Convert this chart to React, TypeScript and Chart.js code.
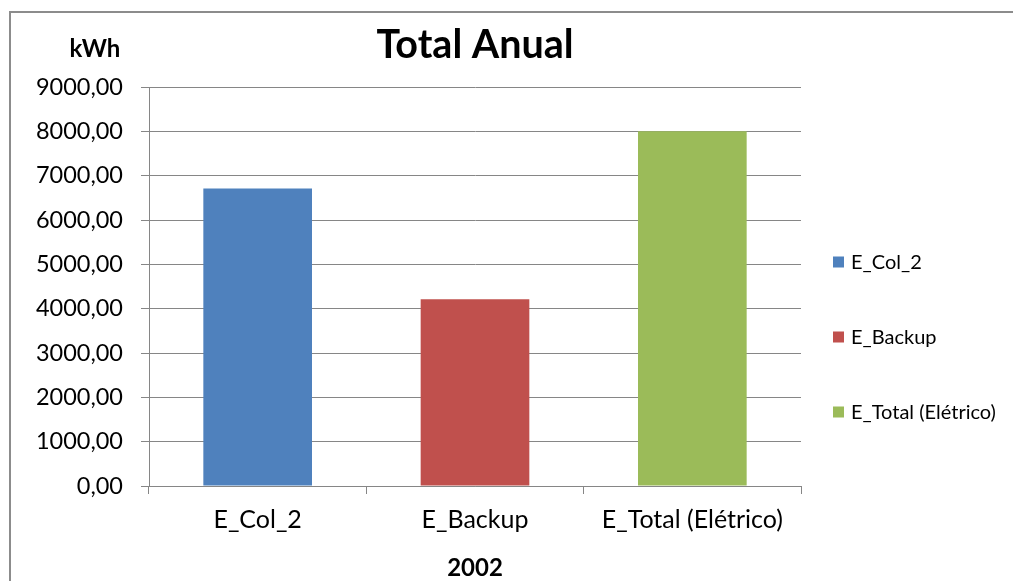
import React, { useEffect, useRef } from "react";
import { Chart, registerables } from "chart.js";

Chart.register(...registerables);

const categories = ["E_Col_2", "E_Backup", "E_Total (Elétrico)"];
const seriesNames = ["E_Col_2", "E_Backup", "E_Total (Elétrico)"];
const eCol2 = [6710, null, null];
const eBackup = [null, 4210, null];
const eTotal = [null, null, 8000];
const colors = ["#4F81BD", "#C0504D", "#9BBB59"];
const yTicks = [0, 1000, 2000, 3000, 4000, 5000, 6000, 7000, 8000, 9000];
const chartTitle = "Total Anual";
const yUnit = "kWh";
const xTitle = "2002";

const FONT = "Lato";
const GRID = "#868686";
const W = 1013;
const H = 581;

const framePlugin = {
  id: "frame",
  beforeDraw(chart: any) {
    const ctx = chart.ctx;
    ctx.save();
    ctx.fillStyle = "#ffffff";
    ctx.fillRect(0, 0, chart.width, chart.height);
    ctx.fillStyle = "#8c8c8c";
    ctx.fillRect(9, 11, 2, chart.height - 11);
    ctx.fillRect(9, 11, chart.width - 9, 2);
    ctx.restore();
  },
  afterDraw(chart: any) {
    const ctx = chart.ctx;
    const area = chart.chartArea;
    ctx.save();
    ctx.fillStyle = "#000";
    ctx.font = `bold 24px ${FONT}`;
    ctx.textAlign = "center";
    ctx.textBaseline = "alphabetic";
    ctx.fillText(yUnit, area.left - 54, area.top - 30);
    ctx.font = `20px ${FONT}`;
    ctx.textAlign = "left";
    ctx.textBaseline = "middle";
    chart.data.datasets.forEach((ds: any, i: number) => {
      const cy = area.top + 175 + i * 75;
      const bx = area.right + 32;
      ctx.fillStyle = ds.backgroundColor;
      ctx.fillRect(bx, cy - 5.5, 11, 11);
      ctx.fillStyle = "#000";
      ctx.fillText(ds.label, bx + 18, cy + 1);
    });
    ctx.restore();
  },
};

export default function App() {
  const ref = useRef<HTMLCanvasElement | null>(null);
  useEffect(() => {
    if (!ref.current) return;
    const chart = new Chart(ref.current, {
      type: "bar",
      data: {
        labels: categories,
        datasets: [eCol2, eBackup, eTotal].map((d, i) => ({
          label: seriesNames[i],
          data: d,
          backgroundColor: colors[i],
          borderWidth: 0,
          barPercentage: 1,
          categoryPercentage: 0.5,
          skipNull: true,
        })),
      },
      options: {
        animation: false,
        responsive: false,
        devicePixelRatio: 1,
        layout: { padding: { left: 0, top: 0, right: 212, bottom: 0 } },
        plugins: {
          legend: { display: false },
          tooltip: { enabled: false },
          title: {
            display: true,
            text: chartTitle,
            fullSize: false,
            color: "#000",
            font: { family: FONT, size: 39.5, weight: "bold", lineHeight: 1.2 },
            padding: { top: 22, bottom: 17.6 },
          },
        },
        scales: {
          x: {
            grid: {
              drawOnChartArea: false,
              offset: true,
              tickLength: 8,
              color: GRID,
              lineWidth: 1,
            },
            border: { color: GRID, width: 1 },
            ticks: {
              color: "#000",
              font: { family: FONT, size: 25 },
              padding: 11,
              maxRotation: 0,
            },
            title: {
              display: true,
              text: xTitle,
              color: "#000",
              font: { family: FONT, size: 24, weight: "bold", lineHeight: 1.1 },
              padding: { top: 0, bottom: 0 },
            },
            afterFit(scale: any) {
              scale.height = 95;
            },
          },
          y: {
            min: 0,
            max: 9000,
            afterBuildTicks(scale: any) {
              scale.ticks = yTicks.map((v) => ({ value: v }));
            },
            grid: { color: GRID, lineWidth: 1, tickLength: 8 },
            border: { color: GRID, width: 1 },
            ticks: {
              color: "#000",
              font: { family: FONT, size: 23.5 },
              padding: 18,
              callback: (v: any) => Number(v).toFixed(2).replace(".", ","),
            },
            afterFit(scale: any) {
              scale.width = 149;
            },
          },
        },
      },
      plugins: [framePlugin],
    });
    return () => chart.destroy();
  }, []);
  return (
    <div
      style={{
        position: "fixed",
        left: 0,
        top: 0,
        width: W,
        height: H,
        background: "#fff",
        overflow: "hidden",
      }}
    >
      <canvas ref={ref} width={W} height={H} style={{ display: "block", width: W, height: H }} />
    </div>
  );
}
